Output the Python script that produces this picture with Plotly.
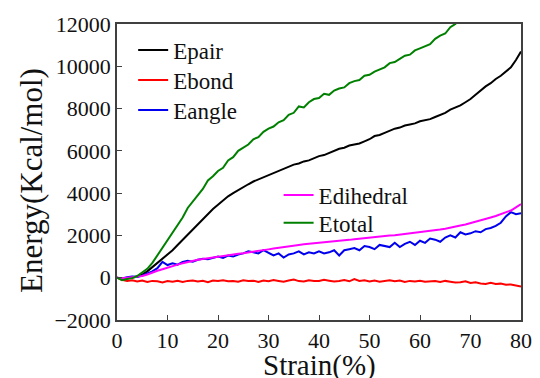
import plotly.graph_objects as go

# Strain (%) sampled every 1 %
strain = list(range(0, 81))

e_pair = [0, -50, -30, 0, 50, 150, 300, 500, 700, 900, 1100, 1300, 1550, 1800, 2050, 2300, 2550, 2800,
          3000, 3250, 3450, 3650, 3850, 4000, 4150, 4300, 4420, 4550, 4650, 4750, 4850, 4950, 5050, 5180,
          5250, 5350, 5400, 5500, 5550, 5650, 5750, 5800, 5900, 6000, 6100, 6150, 6250, 6300, 6350, 6450,
          6550, 6700, 6750, 6850, 6950, 7050, 7100, 7200, 7250, 7300, 7400, 7450, 7500, 7600, 7700, 7800,
          7950, 8050, 8150, 8300, 8450, 8650, 8850, 9050, 9200, 9400, 9550, 9750, 9950, 10300, 10700]

e_bond = [0, -100, -150, -120, -180, -130, -200, -150, -170, -220, -160, -190, -140, -200, -150, -130,
          -180, -140, -210, -130, -160, -120, -170, -150, -190, -120, -160, -140, -200, -130, -170, -110,
          -150, -190, -130, -90, -160, -180, -120, -160, -150, -100, -140, -180, -150, -110, -170, -60,
          -150, -120, -180, -130, -190, -150, -120, -170, -130, -200, -150, -180, -140, -190, -170, -160,
          -200, -150, -190, -230, -210, -170, -250, -220, -270, -300, -240, -300, -280, -330, -320, -370, -420]

e_angle = [0, -40, 20, 60, 40, 100, 200, 300, 450, 750, 600, 680, 620, 750, 800, 760, 850, 900, 870, 950,
           1000, 930, 1050, 1000, 1100, 1150, 1250, 1200, 1150, 1300, 1180, 1050, 1150, 950, 1100, 1150,
           1250, 1100, 1200, 1150, 1250, 1150, 1200, 1300, 1050, 1300, 1350, 1400, 1300, 1500, 1450, 1350,
           1550, 1500, 1450, 1650, 1450, 1600, 1700, 1550, 1750, 1650, 1850, 1800, 1700, 1900, 2000, 1900,
           2150, 2050, 2100, 2200, 2150, 2300, 2350, 2450, 2600, 2900, 3100, 3000, 3050]

e_dihedral = [0, -30, 0, 20, 30, 80, 150, 250, 330, 400, 480, 540, 620, 680, 740, 800, 850, 880, 920, 960,
              990, 1030, 1060, 1090, 1130, 1160, 1190, 1230, 1270, 1300, 1340, 1380, 1420, 1460, 1490, 1520,
              1550, 1580, 1600, 1630, 1650, 1680, 1700, 1720, 1750, 1770, 1790, 1820, 1850, 1870, 1890, 1920,
              1950, 1970, 2000, 2010, 2040, 2060, 2080, 2100, 2130, 2160, 2190, 2230, 2280, 2320, 2380, 2430,
              2470, 2520, 2580, 2640, 2700, 2780, 2850, 2920, 3000, 3080, 3180, 3330, 3480]

# Etotal leaves the plotted range after ~67 % strain
strain_total = list(range(0, 69))
e_total = [0, -120, -60, -20, 80, 250, 420, 700, 1050, 1400, 1800, 2150, 2500, 2850, 3300, 3600, 3950, 4200,
           4600, 4800, 5050, 5200, 5550, 5700, 6000, 6150, 6300, 6550, 6650, 6900, 7050, 7150, 7350, 7450,
           7700, 7800, 8100, 8050, 8300, 8450, 8500, 8700, 8650, 8850, 8950, 9000, 9200, 9300, 9350, 9550,
           9600, 9750, 9850, 9950, 10150, 10200, 10350, 10500, 10550, 10750, 10850, 10950, 11050, 11300,
           11450, 11550, 11850, 12000, 12300]

# name, x, y, colour, legend id, legend anchor (paper x, paper y)
series = [
    ("Epair", strain, e_pair, "#000000", "legend", (0.04, 0.912)),
    ("Ebond", strain, e_bond, "#ff0000", "legend2", (0.04, 0.811)),
    ("Eangle", strain, e_angle, "#0000ee", "legend3", (0.04, 0.709)),
    ("Edihedral", strain, e_dihedral, "#ff00ff", "legend4", (0.40, 0.422)),
    ("Etotal", strain_total, e_total, "#008000", "legend5", (0.40, 0.328)),
]

serif = "serif"
ink = "#111111"
frame = "#404040"
legend_font = dict(size=23, family=serif, color=ink)
tick_font = dict(size=22, family=serif, color=ink)
x_title_font = dict(size=29, family=serif, color=ink)
y_title_font = dict(size=31, family=serif, color=ink)

fig = go.Figure()
legends = {}
for name, xs, ys, color, leg, (lx, ly) in series:
    fig.add_trace(go.Scatter(x=xs, y=ys, mode="lines", name=name, legend=leg, showlegend=True,
                             line=dict(color=color, width=2)))
    legends[leg] = dict(x=lx, y=ly, xanchor="left", yanchor="middle",
                        bgcolor="rgba(0,0,0,0)", font=legend_font)

# axis titles placed as paper-anchored text so the plot area stays fixed
fig.add_annotation(text="Strain(%)", xref="paper", yref="paper", x=0.5, y=-0.155,
                   xanchor="center", yanchor="middle", showarrow=False, font=x_title_font)
fig.add_annotation(text="Energy(Kcal/mol)", xref="paper", yref="paper", x=-0.21, y=0.47,
                   xanchor="center", yanchor="middle", textangle=-90, showarrow=False,
                   font=y_title_font)

fig.update_layout(
    width=540, height=378,
    margin=dict(l=117, r=19, t=24, b=58),
    paper_bgcolor="white", plot_bgcolor="white",
    font=dict(family=serif, color=ink),
    showlegend=True,
    xaxis=dict(range=[0, 80], dtick=10, ticks="inside", ticklen=5, tickcolor=frame,
               showline=True, linecolor=frame, linewidth=1.5, mirror=True, showgrid=False,
               zeroline=False, tickfont=tick_font, automargin=False),
    yaxis=dict(range=[-2000, 12000], dtick=2000, ticks="inside", ticklen=5, tickcolor=frame,
               tickformat="d", automargin=False,
               showline=True, linecolor=frame, linewidth=1.5, mirror=True, showgrid=False,
               zeroline=False, tickfont=tick_font),
    **legends,
)

fig.write_html("out.html")
